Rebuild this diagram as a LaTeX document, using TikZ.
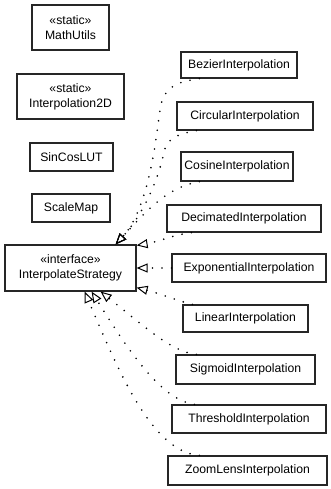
\documentclass[tikz,border=0pt]{standalone}
\usepackage{fontspec}
\setmainfont{Liberation Sans}
\usetikzlibrary{arrows.meta}

\begin{document}
\begin{tikzpicture}[x=1pt,y=-1pt,
  cls/.style={draw=black!85,line width=1.2pt,fill=white,inner sep=0pt,
    align=center,font=\fontsize{12.2}{15}\selectfont},
  realize/.style={draw=black,line width=1.8pt,line cap=round,
    dash pattern=on 0pt off 9.5pt,
    -{Triangle[open,length=11pt,width=9pt,line width=1pt]}}]
  \useasboundingbox[fill=white] (0,0) rectangle (331,489);

  % utility classes on the left
  \node[cls,minimum width=77pt,minimum height=45pt] (mu) at (70.5,27.5) {«static»\\MathUtils};
  \node[cls,minimum width=107pt,minimum height=45pt] (i2) at (70.5,96.5) {«static»\\Interpolation2D};
  \node[cls,minimum width=83pt,minimum height=28pt] (sc) at (71.5,157) {SinCosLUT};
  \node[cls,minimum width=78pt,minimum height=28pt] (sm) at (71,208) {ScaleMap};

  % the interface
  \node[cls,minimum width=131pt,minimum height=46pt] (is) at (70.5,268) {«interface»\\InterpolateStrategy};

  % implementations
  \node[cls,minimum width=116pt,minimum height=26pt] (bz) at (239,65) {BezierInterpolation};
  \node[cls,minimum width=136pt,minimum height=28pt] (cc) at (245,116) {CircularInterpolation};
  \node[cls,minimum width=112pt,minimum height=29pt] (cs) at (237,166.5) {CosineInterpolation};
  \node[cls,minimum width=154pt,minimum height=27pt] (dc) at (244,218.5) {DecimatedInterpolation};
  \node[cls,minimum width=154pt,minimum height=28pt] (ex) at (249,268) {ExponentialInterpolation};
  \node[cls,minimum width=125pt,minimum height=27pt] (ln) at (245.5,318.5) {LinearInterpolation};
  \node[cls,minimum width=139pt,minimum height=29pt] (sg) at (245.5,369.5) {SigmoidInterpolation};
  \node[cls,minimum width=154pt,minimum height=28pt] (th) at (249,419) {ThresholdInterpolation};
  \node[cls,minimum width=159pt,minimum height=29pt] (zl) at (247.5,470.5) {ZoomLensInterpolation};

  % realizations meeting on top of the interface (shared final tangent)
  \draw[realize] ([xshift=19pt]bz.south west) .. controls (175,82) and (163,88) .. (160,110)
    .. controls (156,140) and (148.5,208.5) .. ([xshift=-21pt]is.north east);
  \draw[realize] ([xshift=20pt]cc.south west) .. controls (178,134) and (167,138) .. (164,152)
    .. controls (161,168) and (148.5,208.5) .. ([xshift=-21pt]is.north east);
  \draw[realize] ([xshift=19pt]cs.south west) .. controls (168,187) and (148.5,208.5) .. ([xshift=-21pt]is.north east);

  % realizations on the right side
  \draw[realize] ([xshift=25pt]dc.south west) .. controls (172,235) and (158,242) .. ([yshift=-1pt]is.north east);
  \draw[realize] (ex.west) -- (is.east);
  \draw[realize] ([xshift=10pt]ln.north west) .. controls (175,300) and (158,293) .. ([yshift=4pt]is.south east);

  % realizations below
  \draw[realize] ([xshift=21pt]sg.north west) .. controls (172,352) and (145,327) .. ([xshift=-36pt]is.south east);
  \draw[realize] ([xshift=23pt]th.north west) .. controls (160,400) and (125,345) .. ([xshift=-45pt]is.south east);
  \draw[realize] ([xshift=32pt]zl.north west) .. controls (150,452) and (115,362) .. ([xshift=-52pt]is.south east);
\end{tikzpicture}
\end{document}
